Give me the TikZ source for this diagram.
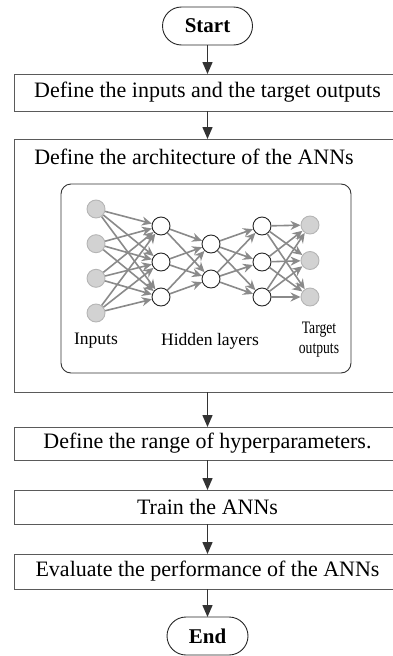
\documentclass[tikz,border=0pt]{standalone}
\usepackage{fontspec}
\setmainfont{Liberation Serif}
\usetikzlibrary{arrows.meta}

\definecolor{boxgray}{HTML}{5A5A5A}
\definecolor{edgegray}{HTML}{8A8A8A}
\definecolor{iofill}{HTML}{D2D2D2}
\definecolor{ioline}{HTML}{B5B5B5}

\tikzset{
  procbox/.style={draw=boxgray, line width=0.9pt, minimum width=387pt, minimum height=35pt,
    inner sep=0pt, outer sep=0pt, font=\fontsize{22}{26}\selectfont},
  terminal/.style={draw=black!85, line width=0.9pt, rounded corners=19pt, minimum height=38pt,
    inner sep=0pt, outer sep=0pt, font=\fontsize{21}{25}\selectfont\bfseries},
  flowarrow/.style={draw=black!80, line width=1.5pt, -{Triangle[length=12pt,width=10pt]}},
  neuron/.style={circle, draw=black!85, fill=white, line width=0.9pt, minimum size=18pt, inner sep=0pt},
  ionode/.style={circle, draw=ioline, fill=iofill, line width=0.9pt, minimum size=18pt, inner sep=0pt},
  netarrow/.style={draw=edgegray, line width=1.6pt, -{Stealth[length=10pt,width=9pt]}},
  netlabel/.style={font=\fontsize{17.5}{20}\selectfont, inner sep=0pt, align=center}
}

\begin{document}
\begin{tikzpicture}[x=1pt, y=-1pt]
\useasboundingbox (0,0) rectangle (392,656);

% flow chart
\node[terminal, minimum width=90pt] (start) at (207.5,26) {Start};
\node[procbox, minimum height=37pt] (defio) at (207.5,92.5) {Define the inputs and the target outputs};
\node[procbox, minimum height=253pt] (arch) at (207.5,265.5) {};
\node[font=\fontsize{22}{26}\selectfont] (archtitle) at (194,157) {Define the architecture of the ANNs};
\node[procbox, minimum height=33pt] (hyper) at (207.5,443.5) {Define the range of hyperparameters.};
\node[procbox, minimum height=34pt] (train) at (207.5,507) {Train the ANNs};
\node[procbox] (evalp) at (207.5,571.5) {Evaluate the performance of the ANNs};
\node[terminal, minimum width=81pt] (stop) at (207.5,636) {End};

\draw[flowarrow] (start) -- (defio);
\draw[flowarrow] (defio) -- (arch);
\draw[flowarrow] (arch) -- (hyper);
\draw[flowarrow] (hyper) -- (train);
\draw[flowarrow] (train) -- (evalp);
\draw[flowarrow] (evalp) -- (stop);

% the network
\node[draw=black!80, line width=0.9pt, rounded corners=10pt, minimum width=290pt, minimum height=189pt] (netbox) at (206,278.5) {};

\node[ionode] (in1) at (96,209) {};
\node[ionode] (in2) at (96,243.7) {};
\node[ionode] (in3) at (96,278.3) {};
\node[ionode] (in4) at (96,313) {};

\node[neuron] (ha1) at (161,226) {};
\node[neuron] (ha2) at (161,262) {};
\node[neuron] (ha3) at (161,297) {};

\node[neuron] (hb1) at (211,244) {};
\node[neuron] (hb2) at (211,279) {};

\node[neuron] (hc1) at (262,226) {};
\node[neuron] (hc2) at (262,262) {};
\node[neuron] (hc3) at (262,297) {};

\node[ionode] (out1) at (310,225) {};
\node[ionode] (out2) at (310,260.5) {};
\node[ionode] (out3) at (310,297) {};

\foreach \s in {in1,in2,in3,in4}
  \foreach \t in {ha1,ha2,ha3}
    \draw[netarrow] (\s) -- (\t);
\foreach \s in {ha1,ha2,ha3}
  \foreach \t in {hb1,hb2}
    \draw[netarrow] (\s) -- (\t);
\foreach \s in {hb1,hb2}
  \foreach \t in {hc1,hc2,hc3}
    \draw[netarrow] (\s) -- (\t);
\foreach \s in {hc1,hc2,hc3}
  \foreach \t in {out1,out2,out3}
    \draw[netarrow] (\s) -- (\t);

\node[netlabel] (inlbl) at (96,341) {Inputs};
\node[netlabel] (hidlbl) at (210,341) {Hidden layers};
\node[netlabel] (outlbl) at (319,340) {\scalebox{0.78}[1]{Target}\\\scalebox{0.78}[1]{outputs}};
\end{tikzpicture}
\end{document}
